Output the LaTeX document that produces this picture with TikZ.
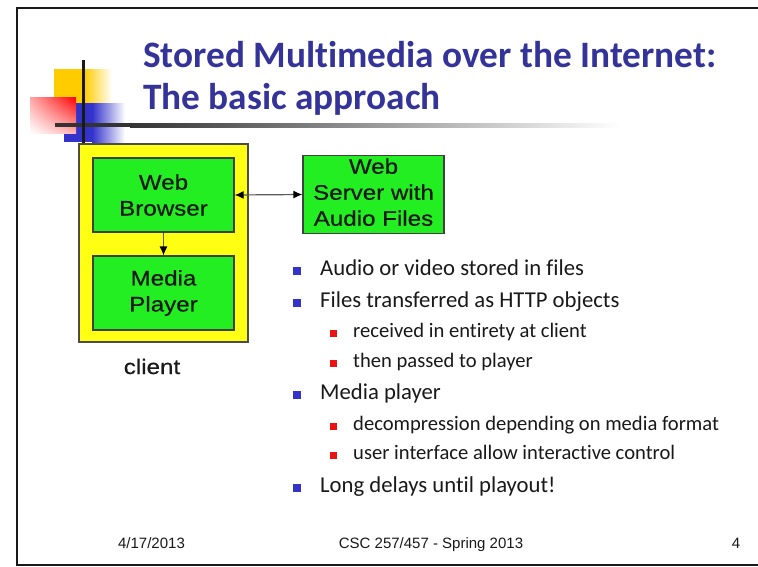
\documentclass[tikz,border=0pt]{standalone}
\usepackage{fontspec}
\setmainfont[Ligatures=NoCommon]{Carlito}
\newfontfamily\diagfont[FakeStretch=1.15,FakeBold=0.6]{Liberation Sans}
\newfontfamily\footfont{Liberation Sans}
\usetikzlibrary{arrows.meta,shadings}
\definecolor{titleblue}{RGB}{51,51,153}
\definecolor{bulblue}{RGB}{51,51,204}
\definecolor{bulred}{RGB}{238,17,17}
\definecolor{boxgreen}{RGB}{34,238,34}
\definecolor{clientyellow}{RGB}{255,255,20}
\definecolor{logoyellow}{RGB}{255,204,0}
\definecolor{logoblue}{RGB}{51,51,204}
\definecolor{txt}{RGB}{25,25,25}
\tikzset{bigtip/.tip={Latex[length=9pt,width=8pt,fill=black,color=black]}}
\begin{document}
\begin{tikzpicture}[x=1pt,y=-1pt,
  titletext/.style={anchor=base west,inner sep=0pt,text=titleblue,font=\fontsize{37.3}{38}\selectfont\bfseries},
  maintext/.style={anchor=base west,inner sep=0pt,text=txt,font=\fontsize{22.7}{26}\selectfont},
  subtext/.style={anchor=base west,inner sep=0pt,text=txt,font=\fontsize{20.6}{24}\selectfont},
  mainsq/.style={fill=bulblue,minimum size=8pt,inner sep=0pt,outer sep=0pt},
  subsq/.style={fill=bulred,minimum size=7pt,inner sep=0pt,outer sep=0pt},
  greenbox/.style={draw=black!75,line width=1.2pt,fill=boxgreen,minimum width=141pt,minimum height=74pt,inner sep=0pt,align=center,text=txt,font=\diagfont\fontsize{21}{26}\selectfont},
  footer/.style={anchor=base,inner sep=0pt,text=txt,font=\footfont\fontsize{15}{17}\selectfont},
  conn/.style={draw=black!65,line width=1.2pt}
]
\useasboundingbox (0,0) rectangle (758,566);
\clip (0,0) rectangle (758,566);
\fill[white] (0,0) rectangle (758,566);
% slide frame (right side beyond the picture)
\draw[line width=2.4pt,black!90] (800,8) -- (17,8) -- (17,565) -- (800,565);

% logo
\fill[logoyellow] (54,69) rectangle (84,103);
\shade[left color=logoyellow,right color=white] (84,69) rectangle (112,103);
\fill[logoblue] (64,103) rectangle (92,142);
\shade[left color=logoblue,right color=white] (92,103) rectangle (125,142);
\shade[upper left=red!35,upper right=red,lower left=white,lower right=red!30] (30,97) rectangle (76,133);
\fill[black!80] (55,123) rectangle (130,127);
\shade[left color=black!80,right color=white] (130,123) rectangle (620,127);
\draw[line width=3pt,black!90] (83,60) -- (83,143);

% title
\node[titletext] (t1) at (143,67) {Stored Multimedia over the Internet:};
\node[titletext] (t2) at (143,109) {The basic approach};

% diagram
\node[draw=black!70,line width=1.2pt,fill=clientyellow,minimum width=169pt,minimum height=198pt,inner sep=0pt] (client) at (163.5,243) {};
\node[greenbox] (browser) at (163.5,195) {Web\\Browser};
\node[greenbox] (player) at (163.5,293) {Media\\Player};
\node[greenbox,minimum height=75pt] (server) at (373.5,194.5) {\raisebox{3pt}{\begin{tabular}{@{}c@{}}Web\\Server with\\Audio Files\end{tabular}}};
\node[anchor=base,inner sep=0pt,text=txt,font=\diagfont\fontsize{21}{26}\selectfont] (clientlbl) at (152,374) {client};
\draw[conn,{bigtip}-{bigtip}] (browser.east) -- (server.west);
\draw[conn,-{bigtip}] (browser.south) -- (player.north);

% bullets
\node[mainsq] (s1) at (297,270.5) {};
\node[maintext] (l1) at (320,275) {Audio or video stored in files};
\node[mainsq] (s2) at (297,302.5) {};
\node[maintext] (l2) at (320,307) {Files transferred as HTTP objects};
\node[subsq] (s3) at (333.5,333.5) {};
\node[subtext] (l3) at (353,337) {received in entirety at client};
\node[subsq] (s4) at (333.5,363.5) {};
\node[subtext] (l4) at (353,367) {then passed to player};
\node[mainsq] (s5) at (297,394.5) {};
\node[maintext] (l5) at (320,399) {Media player};
\node[subsq] (s6) at (333.5,426.5) {};
\node[subtext] (l6) at (353,430) {decompression depending on media format};
\node[subsq] (s7) at (333.5,455.5) {};
\node[subtext] (l7) at (353,459) {user interface allow interactive control};
\node[mainsq] (s8) at (297,487.5) {};
\node[maintext] (l8) at (320,492) {Long delays until playout!};

% footer
\node[footer] (f1) at (151.5,548) {4/17/2013};
\node[footer] (f2) at (431,548) {CSC 257/457 - Spring 2013};
\node[footer] (f3) at (736,548) {4};
\end{tikzpicture}
\end{document}
